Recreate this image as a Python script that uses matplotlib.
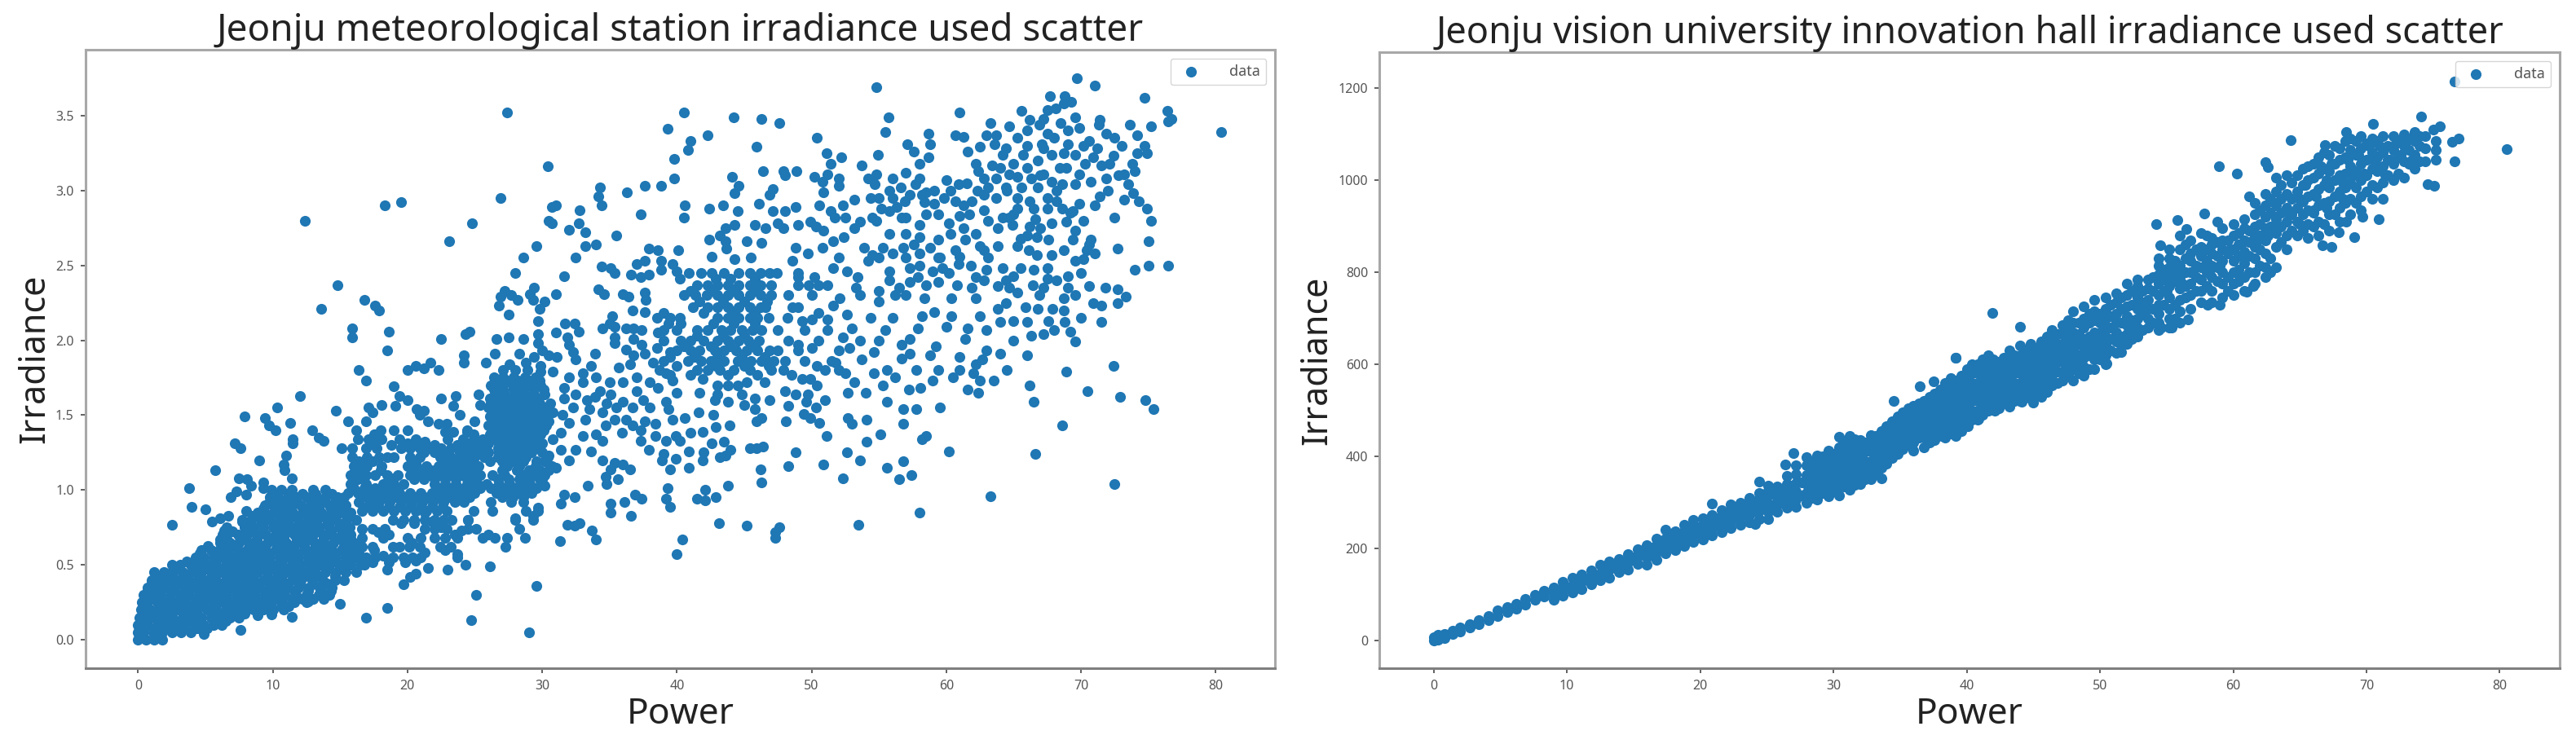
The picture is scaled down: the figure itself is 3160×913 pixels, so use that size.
import matplotlib
matplotlib.use('Agg')
import matplotlib.pyplot as plt

# ---- left panel, solid area near the origin: one irradiance per row, powers along it
met_blob_irr = [0.00, 0.05, 0.10, 0.15, 0.20, 0.25, 0.30, 0.35, 0.40, 0.45, 0.50, 0.55, 0.60, 0.65, 0.70, 0.75, 0.80, 0.85, 0.90, 0.95, 1.00]
met_blob_power = [
    [0.0, 0.6, 1.2, 1.8],
    [0.0, 0.4, 1.1, 1.8, 2.5, 3.2, 3.9],
    [0.0, 0.7, 1.4, 2.1, 2.8, 3.5, 4.2, 4.9, 5.6, 6.2],
    [0.1, 0.5, 1.2, 1.9, 2.6, 3.3, 4.0, 4.7, 5.4, 6.1, 6.8, 7.5],
    [0.2, 0.9, 1.6, 2.3, 3.0, 3.7, 4.4, 5.1, 5.8, 6.5, 7.2, 7.9, 8.6, 9.3, 10.0, 10.8],
    [0.3, 0.7, 1.4, 2.1, 2.8, 3.5, 4.2, 4.9, 5.6, 6.3, 7.0, 7.7, 8.4, 9.1, 9.9, 10.7, 11.6, 12.5],
    [0.4, 1.0, 1.7, 2.4, 3.1, 3.8, 4.5, 5.2, 5.9, 6.6, 7.3, 8.0, 8.7, 9.4, 10.1, 10.9, 11.7, 12.5, 13.4, 14.2],
    [0.7, 1.3, 2.0, 2.7, 3.4, 4.1, 4.8, 5.5, 6.2, 6.9, 7.6, 8.3, 9.0, 9.7, 10.4, 11.1, 11.9, 12.7, 13.5, 14.4],
    [1.0, 1.6, 2.3, 3.0, 3.7, 4.4, 5.1, 5.8, 6.5, 7.2, 7.9, 8.6, 9.3, 10.0, 10.7, 11.4, 12.1, 12.9, 13.7, 14.6, 15.3],
    [1.2, 1.9, 2.5, 3.3, 4.0, 4.7, 5.4, 6.1, 6.8, 7.5, 8.2, 8.9, 9.6, 10.3, 11.0, 11.7, 12.4, 13.1, 13.9, 14.7, 15.4, 16.2],
    [2.5, 3.1, 3.9, 4.4, 5.1, 5.8, 6.5, 7.2, 7.9, 8.6, 9.3, 10.0, 10.7, 11.4, 12.1, 12.8, 13.5, 14.2, 15.0, 15.8, 16.5],
    [4.3, 4.9, 5.6, 6.3, 7.0, 7.7, 8.4, 9.1, 9.8, 10.5, 11.2, 11.9, 12.6, 13.3, 14.0, 14.7, 15.4, 16.2, 16.9],
    [4.7, 5.4, 6.0, 6.7, 7.4, 8.1, 8.8, 9.5, 10.2, 10.9, 11.6, 12.3, 13.0, 13.7, 14.4, 15.1, 15.9],
    [6.1, 6.8, 7.5, 8.2, 8.9, 9.6, 10.3, 11.0, 11.7, 12.4, 13.1, 13.8, 14.5, 15.3, 16.0],
    [6.3, 7.4, 8.1, 8.8, 9.5, 10.2, 10.9, 11.6, 12.3, 13.0, 13.7, 14.4, 15.1, 15.8],
    [6.6, 7.9, 8.6, 9.3, 10.0, 10.7, 11.4, 12.1, 12.8, 13.5, 14.2, 14.9, 15.7],
    [7.7, 8.4, 9.1, 9.8, 10.5, 11.2, 11.9, 12.6, 13.3, 14.0, 14.7, 15.5, 16.2],
    [8.9, 9.4, 10.1, 10.8, 11.5, 12.2, 12.9, 13.6, 14.3, 15.0, 15.8],
    [9.4, 10.0, 10.7, 11.4, 12.1, 12.8, 13.5, 14.2, 14.9, 15.4],
    [9.8, 10.4, 11.1, 11.8, 12.5, 13.2, 13.9, 14.8, 15.3],
    [9.9, 10.6, 11.4, 13.0, 13.9],
]
# in-between rows of the same area, fills the holes
met_fill_irr = [0.025, 0.075, 0.125, 0.175, 0.225, 0.275, 0.325, 0.375, 0.425, 0.475, 0.525, 0.575, 0.625, 0.675, 0.725, 0.775, 0.825, 0.875, 0.925, 0.975]
met_fill_power = [
    [0.3, 1.5],
    [0.3, 1.4, 2.4, 3.4, 4.4, 5.1],
    [0.4, 1.6, 2.6, 3.6, 4.6, 5.6, 6.5],
    [0.4, 1.4, 2.4, 3.4, 4.4, 5.4, 6.4, 7.3, 7.9],
    [0.5, 1.6, 2.6, 3.6, 4.6, 5.6, 6.6, 7.6, 8.6, 9.6, 10.6, 11.2],
    [0.6, 1.4, 2.4, 3.4, 4.4, 5.4, 6.4, 7.4, 8.4, 9.4, 10.4, 11.4, 12.2, 13.0],
    [0.7, 1.6, 2.6, 3.6, 4.6, 5.6, 6.6, 7.6, 8.6, 9.6, 10.6, 11.6, 12.6, 13.6, 14.3],
    [1.0, 2.0, 3.0, 4.0, 5.0, 6.0, 7.0, 8.0, 9.0, 10.0, 11.0, 12.0, 13.0, 14.0],
    [1.3, 2.6, 3.6, 4.6, 5.6, 6.6, 7.6, 8.6, 9.6, 10.6, 11.6, 12.6, 13.6, 14.6],
    [3.0, 4.1, 5.1, 6.1, 7.1, 8.1, 9.1, 10.1, 11.1, 12.1, 13.1, 14.1, 15.1],
    [3.6, 4.6, 5.6, 6.6, 7.6, 8.6, 9.6, 10.6, 11.6, 12.6, 13.6, 14.6, 15.6, 16.6],
    [4.6, 5.6, 6.6, 7.6, 8.6, 9.6, 10.6, 11.6, 12.6, 13.6, 14.6, 15.6, 16.4],
    [5.2, 6.3, 7.3, 8.3, 9.3, 10.3, 11.3, 12.3, 13.3, 14.3, 15.3],
    [6.6, 7.8, 8.8, 9.8, 10.8, 11.8, 12.8, 13.8, 14.8, 15.8],
    [7.0, 8.3, 9.3, 10.3, 11.3, 12.3, 13.3, 14.3, 15.3],
    [8.1, 9.1, 10.1, 11.1, 12.1, 13.1, 14.1, 15.1],
    [8.5, 9.6, 10.6, 11.6, 12.6, 13.6, 14.6, 15.6],
    [9.3, 10.3, 11.3, 12.3, 13.3, 14.3, 15.3],
    [9.8, 10.8, 11.8, 12.8, 13.8, 14.6],
    [10.2, 11.2, 12.2, 13.2, 14.4],
]

# ---- left panel, band from power 16 to 31
met_band_irr = [0.55, 0.62, 0.68, 0.74, 0.80, 0.86, 0.92, 0.98, 1.04, 1.10, 1.16, 1.22, 1.28, 1.34, 1.40, 1.46, 1.52, 1.58, 1.64, 1.70, 1.75]
met_band_power = [
    [17.6, 18.9, 19.7, 20.4, 21.0, 23.7],
    [16.6, 17.4, 19.4, 20.1, 20.9, 22.4, 23.2, 27.3],
    [16.6, 18.2, 20.0, 21.0, 22.0, 22.8, 23.7, 26.5, 27.4, 28.7],
    [16.6, 17.4, 18.3, 21.3, 22.0, 22.9, 24.5, 25.1, 28.3],
    [18.9, 19.7, 20.5, 21.3, 22.0, 22.7, 23.3, 24.5, 28.0, 29.3],
    [16.6, 17.4, 18.2, 19.0, 19.8, 20.6, 21.4, 22.2, 22.9, 24.9, 26.3, 28.8, 29.7],
    [16.4, 17.2, 17.9, 18.7, 19.5, 20.3, 21.1, 21.9, 22.7, 23.5, 24.2, 26.2, 27.7, 28.6],
    [15.6, 16.3, 17.1, 17.8, 18.6, 19.4, 20.2, 21.0, 21.8, 22.6, 23.4, 24.2, 25.0, 26.6, 27.4, 28.2, 29.2],
    [15.8, 16.9, 18.2, 19.0, 19.7, 22.0, 22.8, 23.6, 24.4, 25.2, 25.9, 26.8, 27.6, 28.4, 29.1, 30.0],
    [15.8, 17.6, 18.5, 19.3, 20.2, 20.9, 21.6, 22.4, 23.2, 24.0, 24.7, 25.4, 26.3, 27.2, 28.6, 29.4, 30.2],
    [16.0, 17.0, 18.1, 20.0, 20.7, 21.4, 22.3, 23.1, 23.9, 24.7, 25.3, 27.4, 28.3, 29.5, 30.7],
    [15.9, 17.0, 17.9, 18.5, 20.2, 20.9, 22.4, 23.2, 24.0, 25.0, 25.7, 26.7, 27.4, 28.1, 28.8, 30.4],
    [15.1, 15.9, 16.9, 17.7, 19.5, 20.2, 20.9, 21.7, 22.5, 23.2, 24.0, 25.0, 25.8, 26.7, 27.4, 28.1, 28.9, 29.6],
    [16.3, 17.1, 18.1, 19.4, 20.6, 24.1, 24.9, 25.6, 26.4, 27.2, 28.0, 28.8, 29.6],
    [16.2, 18.0, 19.0, 20.0, 24.4, 26.5, 27.3, 28.0, 28.7, 29.4, 30.1],
    [26.4, 27.1, 27.8, 28.5, 29.2, 29.9, 30.5],
    [26.5, 27.2, 27.9, 28.6, 29.3, 30.0, 30.8],
    [26.2, 26.9, 27.7, 28.4, 29.1, 29.8, 30.6],
    [26.5, 27.2, 28.0, 28.7, 29.4, 30.2],
    [26.2, 27.0, 27.8, 28.5, 29.2, 29.9],
    [26.4, 27.1, 27.9, 28.7, 29.5],
]
met_band2_irr = [0.89, 0.95, 1.01, 1.07, 1.13, 1.19, 1.25, 1.31, 1.37, 1.43, 1.49, 1.55, 1.61, 1.67, 1.73]
met_band2_power = [
    [17.0, 17.8, 18.6, 19.4, 20.2, 21.0, 21.8, 22.6],
    [16.7, 17.5, 18.3, 19.1, 19.9, 20.7, 21.5, 22.3, 23.1, 23.9, 24.6, 27.0, 27.8, 28.6],
    [16.0, 16.8, 17.6, 18.4, 19.2, 22.2, 23.0, 23.8, 24.6, 25.4, 26.2, 27.2, 28.0, 28.8, 29.6],
    [16.3, 18.8, 20.5, 21.2, 22.0, 22.8, 23.6, 24.4, 25.0, 26.7, 27.5, 28.3, 29.0, 29.8],
    [16.4, 18.0, 20.4, 21.2, 22.0, 22.8, 23.6, 24.3, 25.1, 27.0, 28.1, 29.0, 29.8, 30.5],
    [16.4, 17.4, 20.6, 22.8, 23.6, 24.5, 26.1, 27.0, 27.8, 28.6, 29.6, 30.2],
    [21.2, 22.0, 23.0, 23.9, 24.5, 25.3, 26.0, 26.8, 27.6, 28.4, 29.2, 30.0],
    [17.5, 20.0, 24.6, 25.3, 26.0, 26.8, 27.6, 28.4, 29.2, 30.0],
    [17.6, 24.9, 26.1, 26.9, 27.7, 28.4, 29.1, 29.9],
    [26.0, 26.8, 27.5, 28.2, 28.9, 29.6, 30.3],
    [26.1, 26.8, 27.5, 28.2, 28.9, 29.6, 30.3],
    [26.0, 26.8, 27.5, 28.2, 29.0, 29.6, 30.4],
    [26.1, 26.8, 27.5, 28.2, 29.0, 29.7],
    [26.4, 27.1, 27.9, 28.6, 29.4, 30.1],
    [26.6, 27.4, 28.2, 29.0, 29.8],
]

# ---- left panel, everything read one by one
met_points_upper = [
    (27.4, 3.52), (12.4, 2.80), (18.3, 2.90), (19.5, 2.92), (26.9, 2.95), (24.8, 2.78), (30.4, 3.16), (23.1, 2.66),
    (14.8, 2.37), (13.6, 2.21), (16.8, 2.27), (17.6, 2.23), (17.9, 2.20), (15.9, 2.08), (15.9, 2.02), (18.6, 2.06),
    (18.5, 1.93), (22.5, 2.01), (24.3, 2.04), (24.6, 2.06), (25.8, 1.85), (26.5, 1.91), (26.6, 2.01), (24.2, 1.90),
    (24.2, 1.85), (27.5, 2.02), (28.6, 2.01), (27.5, 2.17), (26.8, 2.23), (26.9, 2.29), (27.2, 2.33), (27.7, 2.30),
    (28.2, 2.27), (28.0, 2.45), (28.6, 2.55), (29.6, 2.63), (29.1, 2.31), (29.4, 2.35), (29.3, 2.27), (30.2, 2.26),
    (29.8, 2.21), (31.0, 2.31), (29.7, 2.13), (29.7, 2.04), (31.0, 2.05), (29.7, 1.98), (30.0, 1.93), (30.5, 1.90),
    (31.1, 1.89), (31.7, 2.11), (32.4, 2.11), (32.7, 2.06), (31.9, 2.02), (32.0, 1.97), (32.3, 1.92), (32.5, 1.87),
    (33.9, 1.91), (33.6, 1.83), (31.6, 2.43), (32.5, 2.55), (33.2, 2.63), (34.0, 2.64), (33.2, 2.72), (32.7, 2.78),
    (32.0, 2.74), (30.7, 2.89), (31.0, 2.90), (30.5, 2.80), (30.7, 2.78), (32.8, 2.87), (34.3, 3.02), (34.2, 2.96),
    (34.4, 2.90), (36.3, 2.99), (37.6, 3.03), (37.3, 2.84), (35.5, 2.70), (37.9, 2.61), (34.4, 2.49), (35.1, 2.48),
    (35.4, 2.45), (34.2, 2.34), (34.6, 2.31), (36.0, 2.31), (36.4, 2.29), (37.0, 2.51), (37.6, 2.53), (36.6, 2.44),
    (37.3, 2.42), (37.9, 2.44), (37.6, 2.32), (37.7, 2.27), (36.7, 2.20), (37.6, 2.19), (35.2, 2.16), (35.0, 2.11),
    (34.5, 2.08), (35.4, 2.09), (35.4, 2.02), (35.4, 1.98), (36.2, 2.08), (36.8, 2.08), (37.4, 2.07), (36.8, 2.01),
    (37.4, 1.97), (36.2, 1.94), (36.8, 1.90), (37.6, 1.91), (36.5, 1.84), (35.7, 1.82), (16.4, 1.80), (20.0, 1.80),
    (20.6, 1.83), (21.2, 1.81), (21.7, 1.85), (22.3, 1.80), (27.6, 1.84), (28.3, 1.91), (28.8, 1.85), (29.4, 1.89),
    (29.9, 1.83), (27.1, 1.80), (28.0, 1.80), (28.9, 1.80), (29.9, 1.79), (30.8, 1.79),
]
met_points_lower = [
    (12.0, 1.63), (10.3, 1.55), (7.9, 1.49), (9.4, 1.48), (9.7, 1.43), (10.2, 1.40), (11.3, 1.45), (11.5, 1.34),
    (11.5, 1.31), (12.9, 1.40), (13.4, 1.35), (13.8, 1.33), (7.2, 1.31), (7.6, 1.28), (9.0, 1.20), (5.7, 1.13),
    (11.0, 1.23), (10.8, 1.17), (10.9, 1.13), (11.4, 1.08), (7.5, 1.08), (8.1, 1.07), (8.4, 1.03), (3.8, 1.01),
    (4.0, 0.89), (5.0, 0.87), (2.5, 0.77), (6.9, 0.95), (7.3, 0.99), (8.0, 0.97), (8.0, 0.86), (7.7, 0.79),
    (5.5, 0.79), (6.1, 0.81), (6.7, 0.83), (6.4, 0.73), (6.1, 0.67), (9.3, 1.05), (9.3, 1.01), (14.7, 1.53),
    (15.6, 1.46), (16.9, 1.46), (17.1, 1.55), (17.4, 1.52), (18.1, 1.57), (19.1, 1.56), (19.0, 1.69), (19.4, 1.63),
    (20.0, 1.60), (16.9, 1.73), (20.7, 1.54), (21.2, 1.53), (20.9, 1.50), (21.5, 1.46), (22.5, 1.61), (23.6, 1.63),
    (23.4, 1.56), (23.9, 1.50), (22.3, 1.44), (22.9, 1.44), (22.8, 1.39), (23.4, 1.39), (25.0, 1.46), (24.4, 1.39),
    (25.3, 1.64), (25.4, 1.57), (7.6, 0.065), (4.9, 0.04), (11.4, 0.155), (8.9, 0.165), (9.9, 0.17), (15.0, 0.24),
    (13.8, 0.27), (12.6, 0.255), (18.5, 0.21), (16.9, 0.15), (24.7, 0.13), (29.0, 0.05), (25.1, 0.30), (29.6, 0.36),
    (19.7, 0.37), (20.2, 0.42), (20.6, 0.44), (18.5, 0.47), (21.5, 0.48), (23.0, 0.47), (26.1, 0.49), (24.3, 0.50),
    (23.7, 0.57), (31.6, 1.68), (33.0, 1.72), (31.6, 1.61), (32.5, 1.64), (33.3, 1.60), (32.3, 1.55), (33.5, 1.54),
    (34.3, 1.66), (35.1, 1.64), (36.0, 1.59), (34.5, 1.52), (37.0, 1.66), (36.7, 1.55), (35.4, 1.47), (37.6, 1.46),
    (34.7, 1.43), (35.9, 1.38), (36.7, 1.43), (33.0, 1.36), (34.0, 1.37), (34.5, 1.33), (33.6, 1.26), (32.5, 1.27),
    (31.4, 1.27), (30.8, 1.34), (31.4, 1.38), (37.3, 1.33), (37.9, 1.27), (34.5, 1.20), (32.0, 1.20), (30.5, 1.23),
    (31.0, 1.15), (35.4, 1.18), (36.0, 1.17), (36.5, 1.14), (35.1, 1.14), (34.7, 1.09), (34.8, 1.04), (35.6, 1.07),
    (33.4, 1.03), (30.0, 1.07), (30.2, 1.03), (31.6, 0.97), (32.4, 0.95), (31.4, 0.91), (35.1, 0.91), (35.1, 0.85),
    (36.1, 0.92), (36.9, 0.97), (37.4, 0.94), (36.6, 0.83), (31.9, 0.77), (32.4, 0.76), (32.8, 0.78), (33.7, 0.73),
    (34.0, 0.67), (31.3, 0.66), (29.7, 0.88), (29.3, 0.83), (28.0, 0.81), (24.5, 0.80), (25.6, 0.68), (26.0, 0.70),
    (40.0, 0.57), (40.4, 0.67), (43.1, 0.78), (45.2, 0.76), (47.6, 0.75), (47.3, 0.72), (47.3, 0.68), (53.5, 0.77),
    (58.0, 0.85), (63.3, 0.96), (72.5, 1.04), (39.3, 1.01), (39.2, 0.94), (39.5, 0.89), (42.1, 1.00), (41.5, 0.94),
    (42.1, 0.93), (42.9, 0.95), (43.8, 1.03), (46.3, 1.05), (46.2, 1.14), (48.3, 1.16), (50.9, 1.17), (52.3, 1.08),
    (53.6, 1.20), (52.6, 1.25), (48.8, 1.25), (56.5, 1.07), (57.4, 1.10), (55.6, 1.15), (56.8, 1.19), (60.2, 1.26),
    (66.6, 1.24), (68.6, 1.43), (58.2, 1.34), (58.5, 1.36), (55.1, 1.37), (54.1, 1.32), (51.1, 1.36), (50.6, 1.45),
    (48.1, 1.46), (49.9, 1.48), (46.3, 1.48), (45.9, 1.46), (52.7, 1.48), (53.0, 1.44), (54.1, 1.47), (56.8, 1.44),
    (56.8, 1.54), (57.8, 1.54), (59.5, 1.55), (55.6, 1.59), (52.7, 1.65), (57.2, 1.67), (58.1, 1.68), (61.6, 1.67),
    (62.4, 1.65), (62.5, 1.73), (63.5, 1.73), (66.2, 1.70), (66.5, 1.59), (70.5, 1.66), (72.9, 1.62), (74.8, 1.60),
    (75.4, 1.54), (40.9, 1.26), (39.5, 1.14), (40.9, 1.15), (39.0, 1.24), (38.9, 1.20), (39.9, 1.21), (41.9, 1.20),
    (42.0, 1.25), (42.6, 1.31), (43.5, 1.32), (44.0, 1.27), (43.6, 1.23), (43.2, 1.22), (45.4, 1.28), (46.4, 1.29),
    (45.9, 1.28), (41.0, 1.38), (41.9, 1.39), (42.9, 1.42), (43.9, 1.43), (39.9, 1.36), (40.2, 1.33), (39.2, 1.33),
    (38.4, 1.36), (38.4, 1.44), (39.7, 1.47), (40.6, 1.48), (41.6, 1.52), (42.7, 1.50), (39.4, 1.54), (39.2, 1.59),
    (41.7, 1.65), (42.8, 1.60), (43.8, 1.59), (45.0, 1.57), (45.8, 1.54), (45.8, 1.61), (46.9, 1.60), (48.0, 1.66),
    (48.8, 1.64), (48.3, 1.56), (49.6, 1.59), (50.3, 1.55), (49.4, 1.51), (49.7, 1.64), (50.4, 1.70), (49.3, 1.74),
    (49.9, 1.74), (46.5, 1.72), (44.8, 1.64), (45.2, 1.72), (44.5, 1.70), (43.8, 1.70), (43.0, 1.70), (43.0, 1.64),
    (41.9, 1.74), (39.7, 1.73), (40.0, 1.65), (38.6, 1.68),
]
met_points_top = [
    (54.8, 3.69), (69.7, 3.75), (71.0, 3.70), (74.7, 3.62), (76.4, 3.53), (76.7, 3.48), (76.5, 3.46), (80.4, 3.39),
    (67.7, 3.63), (68.8, 3.63), (69.3, 3.59), (67.5, 3.54), (68.1, 3.55), (68.7, 3.58), (65.6, 3.53), (61.0, 3.52),
    (40.5, 3.52), (44.2, 3.49), (46.3, 3.48), (47.6, 3.45), (55.7, 3.49), (55.5, 3.39), (39.3, 3.41), (42.3, 3.37),
    (41.0, 3.33), (40.8, 3.27), (39.8, 3.21), (39.8, 3.08), (38.8, 3.03), (45.9, 3.29), (50.4, 3.35), (51.1, 3.25),
    (51.4, 3.18), (52.2, 3.22), (54.9, 3.24), (57.1, 3.31), (57.6, 3.26), (58.0, 3.18), (58.7, 3.22), (58.7, 3.38),
    (58.8, 3.31), (60.7, 3.37), (61.3, 3.36), (53.7, 3.17), (46.4, 3.13), (47.9, 3.13), (48.0, 3.10), (48.9, 3.13),
    (44.1, 3.09), (44.6, 3.03), (44.3, 2.98), (47.1, 3.01), (46.9, 2.97), (50.2, 3.09), (51.2, 3.11), (50.8, 3.06),
    (52.0, 3.08), (52.0, 3.03), (50.9, 2.99), (40.6, 2.90), (42.4, 2.88), (43.4, 2.90), (44.5, 2.86), (46.1, 2.91),
    (47.1, 2.86), (48.0, 2.86), (48.8, 2.89), (50.6, 2.90), (51.4, 2.86), (52.3, 2.90), (53.2, 2.94), (51.7, 2.82),
    (52.5, 2.82), (40.5, 2.82), (44.3, 2.77), (43.6, 2.75), (43.2, 2.70), (45.8, 2.77), (46.6, 2.75), (47.5, 2.78),
    (47.9, 2.75), (49.0, 2.77), (49.9, 2.79), (50.3, 2.76), (50.9, 2.73), (42.4, 2.67), (43.6, 2.66), (43.7, 2.61),
    (45.2, 2.66), (46.3, 2.65), (40.1, 2.60), (38.6, 2.60), (38.8, 2.53), (39.7, 2.51), (40.0, 2.46), (40.2, 2.41),
    (38.8, 2.47), (40.9, 2.45), (42.6, 2.56), (44.3, 2.54), (45.5, 2.55), (48.8, 2.62), (49.7, 2.58), (50.8, 2.62),
    (51.6, 2.66), (52.4, 2.69), (52.0, 2.55), (51.6, 2.48), (48.6, 2.53), (49.0, 2.42), (50.2, 2.42),
    (54.8, 3.11), (56.0, 3.08), (57.0, 3.12), (54.2, 3.08), (54.7, 3.04), (55.8, 3.00), (56.6, 3.02), (54.4, 2.95),
    (57.7, 3.04), (58.5, 2.99), (56.3, 2.89), (55.2, 2.88), (54.5, 2.82), (56.9, 2.93),
    (52.6, 2.46), (53.4, 2.42), (53.3, 2.35), (53.6, 2.30), (52.1, 2.28), (54.2, 2.53), (55.0, 2.55), (55.8, 2.46),
    (57.3, 2.48), (57.9, 2.42), (58.5, 2.37), (57.3, 2.39), (59.0, 2.46), (59.7, 2.48), (60.9, 2.51), (61.8, 2.50),
    (59.4, 2.39), (58.4, 2.28), (57.0, 2.30), (56.2, 2.30), (55.0, 2.33), (55.0, 2.26), (60.4, 2.28), (60.8, 2.37),
    (61.9, 2.35), (62.2, 2.28), (62.8, 2.40), (63.8, 2.36), (64.4, 2.40), (64.2, 2.48), (65.5, 2.48), (67.5, 2.48),
    (67.5, 2.41), (69.0, 2.43), (69.0, 2.35), (70.6, 2.36), (71.8, 2.35), (72.7, 2.34), (73.3, 2.29), (72.7, 2.25),
    (71.5, 2.23), (70.9, 2.25), (69.6, 2.30), (68.7, 2.28), (68.7, 2.20), (67.9, 2.21), (66.8, 2.21), (66.9, 2.30),
    (65.9, 2.22), (65.3, 2.32), (66.4, 2.37), (64.7, 2.35), (63.8, 2.21), (64.4, 2.25), (61.6, 2.08), (61.4, 2.01),
    (63.0, 2.07), (60.4, 2.16), (60.0, 2.09), (58.2, 2.16), (59.1, 2.19), (57.9, 2.08), (57.3, 2.01), (56.7, 1.97),
    (57.3, 1.91), (56.7, 1.88), (59.2, 1.96), (58.8, 1.90), (61.0, 1.89), (63.0, 1.93), (64.0, 1.91), (62.7, 1.87),
    (62.2, 1.84), (61.0, 1.80), (59.4, 1.80), (68.9, 1.79), (72.4, 1.83), (69.6, 1.99), (66.3, 2.03), (67.2, 2.04),
    (68.0, 2.07), (67.6, 2.13), (68.8, 2.12), (74.0, 2.47), (75.0, 2.50), (76.5, 2.50), (72.7, 2.61), (75.0, 2.66),
    (72.5, 2.82), (75.2, 2.80), (74.9, 2.88), (74.3, 2.93), (73.9, 2.98), (73.2, 2.94), (71.4, 2.96), (69.6, 2.53),
    (70.2, 2.54), (70.6, 2.64), (70.4, 2.60), (70.7, 2.67), (69.4, 2.67), (69.6, 2.73), (70.2, 2.80), (68.7, 2.60),
    (67.8, 2.57), (66.7, 2.57), (66.1, 2.60), (65.3, 2.63), (65.5, 2.68), (66.7, 2.69), (67.6, 2.67), (63.8, 2.63),
    (68.9, 2.79), (67.8, 2.78), (66.2, 2.76), (64.9, 2.77), (64.2, 2.82), (63.8, 2.75), (63.1, 2.80), (62.8, 2.87),
    (62.2, 2.71), (61.3, 2.75), (61.4, 2.67), (62.5, 2.63), (63.1, 2.55), (62.8, 2.60), (61.7, 2.84), (61.9, 2.93),
    (60.7, 2.60), (59.4, 2.67), (60.3, 2.71), (60.2, 2.78), (59.4, 2.84), (58.5, 2.84), (59.1, 2.91), (58.2, 2.97),
    (59.1, 3.00), (60.0, 3.07), (60.9, 3.04), (60.7, 2.93), (60.3, 3.00), (58.0, 2.77), (57.0, 2.71), (58.0, 2.69),
    (56.7, 2.82), (55.8, 2.86), (54.8, 2.80), (53.6, 2.79), (53.2, 2.75), (55.8, 2.71), (57.6, 2.64), (58.0, 2.58),
    (57.0, 2.55), (55.3, 2.62), (53.9, 2.62), (56.0, 2.58), (54.5, 2.57),
    (66.2, 3.47), (66.9, 3.44), (69.6, 3.49), (71.4, 3.47), (64.7, 3.43), (65.3, 3.35), (67.5, 3.38), (69.9, 3.42),
    (71.9, 3.38), (73.6, 3.44), (75.2, 3.43), (71.3, 3.44), (66.0, 3.30), (67.1, 3.31), (68.0, 3.35), (69.0, 3.31),
    (70.6, 3.33), (74.2, 3.37), (74.7, 3.30), (65.7, 3.24), (66.8, 3.20), (67.8, 3.24), (69.6, 3.24), (70.9, 3.22),
    (72.4, 3.23), (74.2, 3.25), (74.9, 3.25), (67.2, 3.11), (68.4, 3.15), (69.9, 3.11), (71.5, 3.17), (72.1, 3.18),
    (71.9, 3.08), (70.7, 3.06), (74.0, 3.13), (73.2, 3.11), (73.5, 3.04), (67.8, 3.06), (66.8, 3.02), (68.6, 3.04),
    (69.6, 3.04), (65.3, 3.09), (64.7, 3.11), (63.7, 3.08), (62.8, 3.08), (63.1, 3.02), (64.4, 3.02), (65.6, 3.02),
    (62.8, 2.97), (63.7, 2.95), (65.3, 2.95), (66.2, 2.93), (67.5, 2.95), (68.2, 2.93), (69.9, 2.91), (69.4, 2.86),
    (65.3, 2.88), (64.7, 2.82), (66.5, 2.88), (67.5, 2.88), (68.6, 2.88), (66.6, 2.81), (62.2, 3.18), (63.4, 3.17),
    (64.0, 3.15), (62.4, 3.13), (61.6, 3.26), (62.5, 3.29), (63.0, 3.37), (63.7, 3.37), (63.6, 3.31), (64.4, 3.28),
    (64.2, 3.24), (63.3, 3.45),
]
# second reading of the thinner parts
met_points_extra = [
    (32.0, 1.75), (33.0, 1.78), (34.0, 1.75), (35.0, 1.72), (36.0, 1.72), (37.0, 1.75), (38.0, 1.72), (33.9, 1.62),
    (34.8, 1.58), (35.5, 1.55), (37.5, 1.60), (38.0, 1.55), (36.2, 1.47), (33.2, 1.47), (32.0, 1.45), (31.5, 1.50),
    (37.3, 1.40), (38.6, 2.05), (39.0, 2.00), (38.5, 1.95), (39.5, 1.92), (38.2, 1.85), (39.2, 1.78), (40.3, 2.00),
    (48.3, 2.30), (49.0, 2.22), (49.3, 2.13), (50.0, 2.14), (50.5, 2.18), (51.2, 2.14), (51.6, 2.23), (52.6, 2.17),
    (53.0, 2.08), (53.6, 2.00), (52.8, 1.95), (53.7, 1.87), (54.6, 1.92), (55.0, 2.00), (55.5, 2.07), (56.0, 2.15),
    (54.4, 2.15), (52.5, 1.78), (53.2, 1.72), (54.0, 1.65), (51.0, 1.60), (51.8, 1.85), (50.4, 1.83), (50.0, 1.95),
    (49.0, 1.97), (52.3, 2.02), (55.6, 1.80), (54.6, 1.78), (56.2, 1.75), (57.8, 1.80), (55.3, 1.70), (59.0, 1.73),
    (60.5, 1.75), (62.0, 1.78), (64.5, 1.80), (66.0, 1.90), (65.0, 2.00), (65.0, 2.13), (64.0, 2.12), (62.5, 2.16),
    (66.0, 2.12), (70.0, 2.15), (69.2, 2.06), (71.5, 2.12), (55.8, 2.40), (56.5, 2.35), (58.0, 2.50), (59.5, 2.55),
    (60.2, 2.45), (61.0, 2.56), (62.2, 2.42), (63.0, 2.47), (65.0, 2.43), (66.5, 2.47), (68.2, 2.40), (67.2, 2.35),
    (70.0, 2.45), (71.0, 2.58), (66.0, 2.70), (65.0, 2.84), (67.0, 2.75), (69.2, 2.85), (68.2, 3.00), (67.0, 3.10),
    (66.0, 3.15), (65.0, 3.18), (64.5, 3.00), (66.0, 3.40), (67.2, 3.48), (68.5, 3.45), (69.0, 3.40), (70.2, 3.30),
    (71.2, 3.28), (68.9, 3.15), (67.2, 3.28), (68.7, 3.25), (66.3, 3.08), (70.3, 3.18), (72.5, 3.35), (73.0, 3.30),
    (73.8, 3.18), (72.8, 3.10), (71.0, 2.90), (72.0, 3.00), (55.0, 2.95), (56.0, 2.95), (57.3, 2.97), (57.0, 2.82),
    (58.4, 2.92), (59.8, 2.95), (58.0, 3.08), (56.8, 2.62), (58.8, 2.62), (59.4, 2.55), (61.3, 2.90), (62.3, 3.00),
    (61.5, 3.05), (61.0, 2.83), (17.5, 0.60), (18.2, 0.56), (18.9, 0.62), (19.8, 0.52), (20.6, 0.53), (21.3, 0.58),
    (20.3, 0.65), (17.8, 0.72), (18.6, 0.70), (19.5, 0.78), (20.5, 0.78), (21.3, 0.85), (22.5, 0.75), (23.5, 0.70),
    (22.8, 0.60), (24.0, 0.73), (16.8, 0.50), (17.4, 0.52), (18.6, 0.52), (21.8, 0.79), (20.6, 1.30), (21.3, 1.32),
    (22.0, 1.30), (23.0, 1.34), (23.7, 1.30), (18.8, 1.30), (19.0, 1.22), (21.6, 1.14), (19.0, 1.08), (16.9, 1.10),
    (17.5, 1.37), (20.5, 1.10),
]
# rows of the middle cluster, power 38 to 52
met_mid_irr = [2.45, 2.41, 2.37, 2.33, 2.30, 2.26, 2.22, 2.18, 2.15, 2.11, 2.07, 2.03, 2.00, 1.96, 1.93, 1.89, 1.86, 1.83, 1.80, 1.77]
met_mid_power = [
    [41.8, 42.6, 43.5, 44.6, 45.4, 46.2, 46.9, 47.4, 49.0],
    [42.9, 44.0, 45.8],
    [41.5, 42.3, 43.0, 43.8, 44.6, 45.4, 46.2, 47.0, 49.0, 49.8, 50.5, 51.2],
    [41.0, 42.7, 44.2, 45.8],
    [40.5, 41.4, 42.2, 43.0, 43.8, 44.6, 45.4, 46.2, 47.0, 50.0],
    [41.7, 43.4, 45.0, 46.7],
    [41.2, 42.3, 43.0, 43.8, 44.6, 45.4, 46.2, 46.6, 48.6],
    [39.0, 42.0, 44.2, 45.8],
    [38.5, 39.5, 40.2, 43.0, 43.8, 44.6, 45.4, 46.0, 46.8, 48.2],
    [39.4, 40.3, 42.7, 44.2, 45.8],
    [39.0, 40.0, 41.5, 42.3, 43.3, 44.0, 44.8, 45.6, 46.3, 47.5, 49.5, 51.2],
    [41.5, 43.4, 45.0],
    [41.0, 42.0, 43.0, 43.8, 44.6, 45.3, 46.1, 48.3, 50.5],
    [40.5, 42.5, 44.0, 45.7],
    [40.0, 41.0, 41.7, 42.8, 43.5, 44.4, 45.2, 46.0, 46.9, 47.5, 49.0, 52.0],
    [39.5, 41.3, 43.0, 44.8, 46.5],
    [39.0, 40.8, 41.8, 42.5, 43.5, 44.5, 45.5, 46.3, 47.2, 48.0, 49.5, 51.5],
    [40.0, 42.9, 45.0, 46.8],
    [38.7, 41.5, 42.3, 43.2, 44.2, 45.4, 47.0, 47.9, 51.0, 52.0],
    [39.5, 41.0, 43.8, 46.0, 48.5],
]

# ---- right panel, columns along the line
vis_power = [0.0, 0.3, 0.8, 1.4, 2.0, 2.7, 3.4, 4.1, 4.8, 5.5, 6.2, 6.9, 7.6, 8.3, 9.0, 9.7, 10.4, 11.1, 11.8, 12.5, 13.2, 13.9, 14.6, 15.3,
             16.0, 16.7, 17.4, 18.1, 18.8, 19.5, 20.2, 20.9, 21.6, 22.3, 23.0, 23.7, 24.4, 25.1, 25.8, 26.5, 27.2,
             28.0, 28.8, 29.6, 30.4, 31.2, 32.0, 32.8, 33.6, 34.4, 35.2, 36.0, 36.8, 37.6, 38.4, 39.2, 40.0, 40.8, 41.6, 42.4, 43.2, 44.0, 44.8, 45.6, 46.4, 47.2,
             48.0, 48.8, 49.6, 50.4, 51.2, 52.0, 52.8, 53.6, 54.4, 55.2, 56.0, 56.8, 57.6, 58.4, 59.2, 60.0, 60.8, 61.6, 62.4,
             63.2, 64.0, 64.8, 65.6, 66.4, 67.2, 68.0, 68.8, 69.6, 70.4, 71.2, 72.0, 72.8, 73.6, 74.4, 75.2]
vis_irr = [
    [0, 8], [2, 12], [6, 14], [14, 21], [20, 28], [28, 36], [36, 45], [44, 54], [54, 66], [62, 72], [70, 80], [78, 90], [88, 100], [95, 108],
    [88, 102, 116], [98, 112, 128], [104, 120, 136], [112, 128, 144], [122, 136, 152], [132, 146, 164], [136, 154, 172], [148, 162, 178], [154, 170, 188], [166, 182, 198],
    [164, 180, 196, 208], [176, 192, 208, 222], [190, 206, 222, 240], [196, 210, 228, 238], [206, 220, 238, 252], [214, 230, 248, 262], [220, 236, 252, 266],
    [228, 242, 258, 272, 298], [236, 250, 266, 284], [244, 258, 274, 296], [252, 268, 284, 300], [256, 272, 290, 310], [264, 282, 300, 320, 346],
    [264, 280, 296, 316, 336], [280, 296, 314, 334], [288, 304, 320, 340, 358], [290, 306, 324, 342, 362, 380],
    [300, 320, 340, 360, 380, 398], [306, 326, 346, 366, 388, 402], [314, 334, 354, 374, 394, 412], [316, 336, 358, 378, 398, 420, 442],
    [328, 348, 368, 388, 408, 428, 444], [340, 360, 380, 400, 420, 436], [350, 370, 390, 410, 430, 446], [375, 395, 415, 435, 455],
    [396, 416, 436, 456, 476], [416, 436, 456, 476, 496], [413, 430, 450, 470, 490, 510], [420, 440, 460, 480, 500, 520],
    [436, 456, 476, 496, 516, 536], [440, 460, 480, 500, 520, 540, 560], [445, 465, 485, 505, 525, 545, 565, 615], [470, 490, 510, 530, 550, 570, 590],
    [480, 500, 520, 540, 560, 580, 600], [500, 520, 540, 560, 580, 600, 620], [505, 525, 545, 565, 585, 605], [510, 530, 550, 570, 590, 610, 630],
    [520, 540, 560, 580, 600, 620, 640], [525, 545, 565, 585, 605, 625, 645], [530, 550, 570, 590, 610, 630, 650], [555, 575, 595, 615, 635, 655, 675],
    [565, 585, 605, 625, 645, 665, 685],
    [565, 590, 610, 630, 650, 670, 690, 715], [575, 595, 615, 635, 655, 680, 700, 725], [590, 610, 630, 650, 670, 695, 715, 740],
    [600, 620, 640, 660, 680, 700, 720, 745], [625, 650, 670, 690, 710, 735, 755], [645, 665, 685, 705, 725, 750, 775],
    [660, 680, 700, 720, 745, 770, 785], [680, 700, 720, 740, 765, 785],
    [675, 690, 710, 730, 750, 775, 795, 815, 830], [680, 700, 720, 745, 770, 790, 810, 830, 850], [690, 715, 740, 765, 790, 815, 850, 880],
    [720, 750, 775, 800, 825, 840, 870], [735, 760, 785, 810, 835, 855, 885], [735, 760, 790, 815, 840, 860, 875], [745, 775, 800, 825, 850, 870, 895],
    [750, 775, 800, 825, 850, 880, 905], [760, 790, 820, 845, 870, 895, 915], [775, 800, 830, 855, 880, 900, 925, 950], [790, 810, 840, 870, 895, 920, 945, 970],
    [810, 855, 885, 915, 945, 975, 1005], [850, 880, 910, 940, 970, 1010], [880, 910, 940, 975, 1010], [875, 905, 935, 965, 1000, 1030],
    [880, 910, 945, 980, 1015, 1050], [890, 925, 955, 985, 1020, 1055], [910, 940, 975, 1010, 1045, 1070], [925, 960, 995, 1030, 1065, 1090],
    [935, 965, 1000, 1035, 1070, 1095], [960, 990, 1025, 1060, 1090], [960, 995, 1030, 1060, 1095], [1000, 1035, 1065, 1095],
    [1005, 1040, 1075, 1100], [1025, 1055, 1085, 1105], [1040, 1070, 1095], [1045, 1065, 1085],
]
# second set of columns, sits between the first ones
vis2_power = [9.4, 10.1, 10.8, 11.5, 12.2, 12.9, 13.6, 14.3, 15.0, 15.7, 16.4, 17.1, 17.8, 18.5, 19.2, 19.9, 20.6, 21.3, 22.0, 22.7, 23.4, 24.1, 24.8, 25.5, 26.2, 26.9, 27.6,
              28.4, 29.2, 30.0, 30.8, 31.6, 32.4, 33.2, 34.0, 34.8, 35.6, 36.4, 37.2, 38.0, 38.8, 39.6, 40.4, 41.2, 42.0, 42.8, 43.6, 44.4, 45.2, 46.0, 46.8, 47.6,
              48.4, 49.2, 50.0, 50.8, 51.6, 52.4, 53.2, 54.0, 54.8, 55.6, 56.4, 57.2, 58.0, 58.8, 59.6, 60.4, 61.2, 62.0, 62.8, 63.6, 64.4, 65.2, 66.0, 66.8, 67.6, 68.4, 69.2, 70.0, 70.8, 71.6, 72.4, 73.2, 74.0]
vis2_irr = [
    [110], [115], [124], [134], [142], [152], [162], [170], [180], [188],
    [188, 202], [198, 214], [206, 226], [218, 232], [224, 240], [232, 246], [244, 260], [252, 266], [260, 278], [268, 284], [274, 294], [282, 302], [288, 308], [296, 318], [304, 328], [312, 336], [316, 344],
    [310, 330, 350, 370, 390], [320, 340, 360, 380, 400], [326, 346, 366, 386, 406], [334, 354, 374, 394, 414, 432], [338, 358, 378, 398, 418, 438], [350, 370, 390, 410, 430], [365, 385, 405, 425, 445], [385, 405, 425, 445, 465], [406, 426, 446, 466, 486], [425, 445, 465, 485, 505], [440, 460, 480, 500, 515], [430, 450, 470, 490, 510, 530], [446, 466, 486, 506, 526, 546], [450, 470, 490, 510, 530, 550, 570], [455, 475, 495, 515, 535, 555, 575], [480, 500, 520, 540, 560, 580, 600], [490, 510, 530, 550, 570, 590, 610], [510, 530, 550, 570, 590, 610], [515, 535, 555, 575, 595, 615], [520, 540, 560, 580, 600, 620], [530, 550, 570, 590, 610, 630], [535, 555, 575, 595, 615, 635], [540, 560, 580, 600, 620, 640, 660], [560, 585, 605, 625, 645, 665], [575, 595, 615, 635, 655, 675, 695],
    [580, 600, 620, 645, 665, 690], [590, 620, 640, 660, 690, 710], [610, 630, 650, 670, 690, 710], [630, 655, 680, 705, 730], [640, 660, 690, 720, 745], [655, 675, 695, 730, 760], [675, 710, 735, 760], [690, 720, 760, 790], [730, 760, 785, 805], [700, 730, 780, 800, 825], [745, 770, 800, 830, 860], [760, 790, 815, 850], [770, 800, 825, 850, 880], [780, 810, 835, 865], [760, 790, 840, 870], [780, 805, 835, 860, 885], [800, 835, 865, 890], [815, 850, 880, 905, 935], [800, 830, 900, 930, 960], [865, 900, 930, 960, 990], [890, 925, 960, 995], [890, 925, 955, 990, 1025], [900, 935, 970, 1005, 1035], [905, 950, 990, 1025, 1060], [925, 965, 1000, 1035, 1075], [950, 985, 1015, 1050, 1085], [950, 985, 1020, 1055, 1085], [975, 1010, 1045, 1080], [985, 1020, 1050, 1085], [1010, 1045, 1075], [1015, 1050, 1085], [1035, 1065, 1090], [1040, 1075, 1095],
]
vis_points = [
    (76.6, 1215), (80.5, 1067), (74.1, 1139), (75.5, 1117), (75.0, 1109), (70.5, 1122), (68.5, 1104), (76.9, 1091),
    (76.4, 1084), (76.6, 1041), (74.6, 991), (75.1, 988), (70.9, 915), (69.1, 876), (69.7, 920), (68.5, 910),
    (67.9, 886), (67.4, 855), (66.7, 858), (64.3, 1086), (66.9, 1076), (62.4, 1039), (62.6, 1029), (58.9, 1031),
    (60.3, 1014), (61.2, 965), (57.8, 928), (54.2, 905), (55.8, 913), (56.5, 894), (58.8, 910), (54.5, 858),
    (61.5, 770), (61.0, 758), (56.6, 698), (55.4, 679), (54.6, 679), (59.0, 729), (58.1, 729), (41.9, 711),
    (44.0, 682), (39.2, 615), (51.6, 627), (50.5, 602), (45.0, 517), (44.1, 519), (43.2, 509), (42.1, 499),
    (40.9, 482), (40.1, 465), (38.1, 444), (27.0, 408), (26.4, 382), (24.1, 253), (33.6, 353), (34.5, 520),
    (36.5, 553), (37.5, 563),
    (60.2, 800), (61.0, 835), (61.8, 870), (62.6, 880), (63.4, 900), (64.2, 925), (65.0, 960), (65.4, 990),
    (66.2, 965), (66.6, 1030), (67.0, 1000), (67.4, 1035), (68.2, 995), (68.6, 1045), (69.0, 1010), (69.4, 1055),
    (69.8, 1015), (70.2, 1075), (70.6, 1040), (71.0, 1075), (71.4, 1010), (71.8, 1045), (72.2, 1080), (72.6, 1055),
    (73.0, 1085), (73.4, 1045), (65.0, 905), (66.0, 930), (67.0, 940), (68.2, 960), (57.0, 800), (58.2, 800),
    (59.0, 815), (59.8, 850), (60.6, 860), (55.0, 760), (56.2, 775), (53.0, 730), (27.0, 300), (26.0, 300),
    (25.0, 320), (28.5, 350), (29.5, 330),
]

title_left = 'Jeonju meteorological station irradiance used scatter'
title_right = 'Jeonju vision university innovation hall irradiance used scatter'
x_ticks = [0, 10, 20, 30, 40, 50, 60, 70, 80]
met_y_ticks = [0.0, 0.5, 1.0, 1.5, 2.0, 2.5, 3.0, 3.5]
vis_y_ticks = [0, 200, 400, 600, 800, 1000, 1200]

plt.rcParams['font.family'] = ['Noto Sans', 'DejaVu Sans']
W, H = 3160.0, 913.0


def collect_rows(rows_y, rows_x):
    xs, ys = [], []
    for y, row in zip(rows_y, rows_x):
        for x in row:
            xs.append(x)
            ys.append(y)
    return xs, ys


def collect_cols(cols_x, cols_y):
    xs, ys = [], []
    for x, col in zip(cols_x, cols_y):
        for y in col:
            xs.append(x)
            ys.append(y)
    return xs, ys


def style_axes(ax, yticks, ylabels, xlim, ylim):
    ax.set_xlim(xlim)
    ax.set_ylim(ylim)
    ax.set_xticks(x_ticks)
    ax.set_yticks(yticks)
    ax.set_yticklabels(ylabels)
    ax.tick_params(labelsize=11.5, labelcolor='#555555', color='#555555', length=4, width=1.3, pad=6)
    for name in ax.spines:
        ax.spines[name].set_color('#a8a8a8')
        ax.spines[name].set_linewidth(2.2)
    ax.spines['bottom'].set_color('#808080')


fig = plt.figure(figsize=(W / 100, H / 100), dpi=100)

# left panel
ax1 = fig.add_axes([104.6 / W, 1 - 820 / H, (1564 - 104.6) / W, (820 - 61) / H])
xs, ys = [], []
for rows_y, rows_x in [(met_blob_irr, met_blob_power), (met_fill_irr, met_fill_power), (met_band_irr, met_band_power),
                       (met_band2_irr, met_band2_power), (met_mid_irr, met_mid_power)]:
    a, b = collect_rows(rows_y, rows_x)
    xs = xs + a
    ys = ys + b
for p, v in met_points_upper + met_points_lower + met_points_top + met_points_extra:
    xs.append(p)
    ys.append(v)
ax1.scatter(xs, ys, s=90, color='#1f77b4', linewidths=0, label='data')
style_axes(ax1, met_y_ticks, ['%.1f' % v for v in met_y_ticks], (-3.92, 84.4), (-0.19, 3.94))
ax1.legend(loc='upper right', fontsize=13, framealpha=0.8, borderaxespad=0.6, handletextpad=1.6, labelcolor='#555555')
ax1.set_title(title_left, fontsize=33, pad=5, color='#222222')
ax1.set_xlabel('Power', fontsize=32, color='#222222', labelpad=4)
ax1.set_ylabel('Irradiance', fontsize=31, color='#222222', labelpad=2)

# right panel
ax2 = fig.add_axes([1692 / W, 1 - 820 / H, (3140 - 1692) / W, (820 - 64) / H])
xs, ys = collect_cols(vis_power, vis_irr)
a, b = collect_cols(vis2_power, vis2_irr)
xs = xs + a
ys = ys + b
for p, v in vis_points:
    xs.append(p)
    ys.append(v)
ax2.scatter(xs, ys, s=90, color='#1f77b4', linewidths=0, label='data')
style_axes(ax2, vis_y_ticks, [str(v) for v in vis_y_ticks], (-4.08, 84.5), (-60, 1278))
ax2.legend(loc='upper right', fontsize=13, framealpha=0.8, borderaxespad=0.6, handletextpad=1.6, labelcolor='#555555')
ax2.set_title(title_right, fontsize=32.5, pad=6, color='#222222')
ax2.set_xlabel('Power', fontsize=32, color='#222222', labelpad=4)
ax2.set_ylabel('Irradiance', fontsize=31, color='#222222', labelpad=2)

fig.savefig('out.png', dpi=100)
